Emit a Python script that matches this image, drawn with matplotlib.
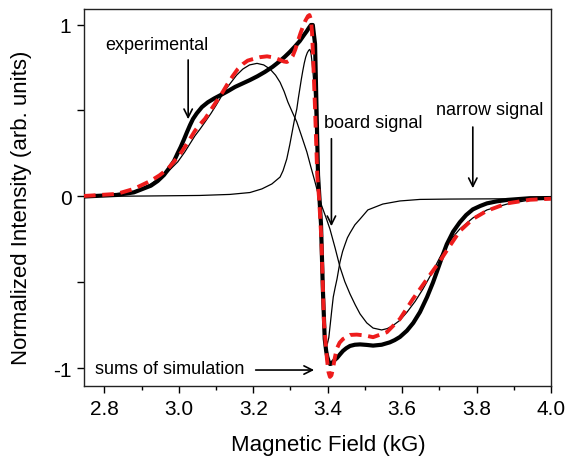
import matplotlib.pyplot as plt
from matplotlib.ticker import FixedLocator, FixedFormatter, MultipleLocator

plt.rcParams['font.family'] = ['Liberation Sans', 'DejaVu Sans']

# experimental spectrum (thick black)
exp_field = [2.745, 2.833, 2.879, 2.925, 2.943, 2.960, 2.974, 2.987, 2.996, 3.005,
             3.014, 3.022, 3.030, 3.038, 3.048, 3.062, 3.078, 3.095, 3.116, 3.133,
             3.151, 3.171, 3.191, 3.211, 3.231, 3.252, 3.272, 3.285, 3.298, 3.312,
             3.325, 3.335, 3.344, 3.350, 3.355, 3.360, 3.366, 3.370, 3.374, 3.378,
             3.382, 3.387, 3.392, 3.396, 3.399, 3.403, 3.406, 3.410, 3.414, 3.419,
             3.425, 3.433, 3.441, 3.450, 3.460, 3.473, 3.487, 3.505, 3.522, 3.545,
             3.567, 3.580, 3.594, 3.613, 3.630, 3.648, 3.667, 3.683, 3.693, 3.702,
             3.711, 3.720, 3.737, 3.755, 3.772, 3.790, 3.810, 3.828, 3.855, 3.882,
             3.944, 4.000]
exp_intensity = [0.000, 0.009, 0.024, 0.063, 0.090, 0.125, 0.165, 0.206, 0.248, 0.288,
                 0.333, 0.375, 0.415, 0.451, 0.483, 0.520, 0.548, 0.570, 0.594, 0.614,
                 0.637, 0.657, 0.677, 0.699, 0.724, 0.754, 0.788, 0.813, 0.840, 0.872,
                 0.904, 0.935, 0.962, 0.982, 0.997, 0.997, 0.887, 0.509, 0.125, -0.015,
                 -0.160, -0.538, -0.828, -0.900, -0.933, -0.962, -0.974, -0.972, -0.962, -0.950,
                 -0.939, -0.918, -0.898, -0.882, -0.869, -0.862, -0.860, -0.863, -0.867, -0.862,
                 -0.848, -0.835, -0.817, -0.780, -0.735, -0.672, -0.585, -0.500, -0.440, -0.385,
                 -0.330, -0.278, -0.205, -0.150, -0.108, -0.075, -0.055, -0.040, -0.028, -0.020,
                 -0.010, -0.009]

# sum of the two simulated components (red dashed)
sum_field = [2.745, 2.833, 2.879, 2.925, 2.948, 2.970, 2.984, 2.997, 3.007, 3.016,
             3.030, 3.043, 3.057, 3.070, 3.080, 3.091, 3.105, 3.118, 3.131, 3.145,
             3.158, 3.172, 3.185, 3.199, 3.218, 3.237, 3.255, 3.272, 3.282, 3.290,
             3.298, 3.306, 3.313, 3.320, 3.327, 3.333, 3.340, 3.347, 3.351, 3.355,
             3.358, 3.361, 3.366, 3.372, 3.377, 3.383, 3.390, 3.398, 3.402, 3.406,
             3.410, 3.414, 3.419, 3.424, 3.432, 3.441, 3.460, 3.478, 3.500, 3.522,
             3.559, 3.594, 3.629, 3.667, 3.702, 3.728, 3.755, 3.790, 3.828, 3.882,
             3.944, 4.000]
sum_intensity = [0.003, 0.015, 0.044, 0.092, 0.123, 0.160, 0.195, 0.230, 0.258, 0.288,
                 0.335, 0.381, 0.420, 0.451, 0.483, 0.520, 0.565, 0.608, 0.655, 0.701,
                 0.740, 0.770, 0.790, 0.799, 0.810, 0.815, 0.808, 0.794, 0.785, 0.782,
                 0.792, 0.817, 0.855, 0.904, 0.950, 0.985, 1.022, 1.049, 1.055, 1.030,
                 0.950, 0.799, 0.509, 0.121, -0.015, -0.247, -0.730, -0.945, -1.020, -1.049,
                 -1.040, -1.003, -0.940, -0.887, -0.850, -0.829, -0.805, -0.803, -0.808, -0.818,
                 -0.789, -0.712, -0.596, -0.480, -0.374, -0.288, -0.201, -0.131, -0.083, -0.040,
                 -0.019, -0.013]

# broad ("board") component
broad_field = [2.745, 2.833, 2.879, 2.925, 2.970, 2.997, 3.016, 3.043, 3.057, 3.070,
               3.086, 3.100, 3.115, 3.128, 3.137, 3.155, 3.172, 3.190, 3.210, 3.228,
               3.245, 3.260, 3.272, 3.283, 3.293, 3.305, 3.317, 3.330, 3.344, 3.355,
               3.366, 3.375, 3.384, 3.395, 3.406, 3.420, 3.433, 3.446, 3.460, 3.474,
               3.487, 3.505, 3.522, 3.545, 3.560, 3.575, 3.594, 3.613, 3.635, 3.656,
               3.680, 3.702, 3.720, 3.737, 3.755, 3.790, 3.828, 3.882, 3.944, 4.000]
broad_intensity = [0.000, 0.006, 0.026, 0.073, 0.143, 0.201, 0.259, 0.352, 0.392, 0.432,
                   0.482, 0.530, 0.585, 0.628, 0.654, 0.705, 0.741, 0.765, 0.774, 0.765,
                   0.741, 0.705, 0.664, 0.610, 0.549, 0.490, 0.433, 0.350, 0.259, 0.170,
                   0.084, 0.010, -0.055, -0.120, -0.189, -0.300, -0.410, -0.495, -0.567, -0.630,
                   -0.683, -0.735, -0.765, -0.776, -0.768, -0.751, -0.720, -0.673, -0.610, -0.538,
                   -0.445, -0.352, -0.290, -0.235, -0.189, -0.125, -0.078, -0.044, -0.020, -0.015]

# narrow component
narrow_field = [2.745, 2.922, 3.056, 3.137, 3.191, 3.223, 3.250, 3.272, 3.280, 3.290,
                3.298, 3.306, 3.311, 3.317, 3.321, 3.325, 3.329, 3.333, 3.337, 3.341,
                3.345, 3.349, 3.352, 3.355, 3.358, 3.361, 3.363, 3.366, 3.370, 3.373,
                3.376, 3.379, 3.382, 3.385, 3.388, 3.391, 3.395, 3.399, 3.403, 3.407,
                3.411, 3.415, 3.420, 3.425, 3.433, 3.440, 3.446, 3.453, 3.460, 3.473,
                3.487, 3.508, 3.548, 3.594, 3.648, 3.728, 4.000]
narrow_intensity = [0.000, 0.003, 0.006, 0.012, 0.023, 0.044, 0.073, 0.113, 0.150, 0.218,
                    0.300, 0.392, 0.450, 0.509, 0.570, 0.625, 0.680, 0.730, 0.775, 0.811,
                    0.835, 0.850, 0.855, 0.835, 0.780, 0.710, 0.650, 0.520, 0.300, 0.150,
                    0.000, -0.150, -0.300, -0.500, -0.650, -0.740, -0.830, -0.858, -0.820, -0.741,
                    -0.660, -0.584, -0.530, -0.480, -0.381, -0.320, -0.282, -0.240, -0.212, -0.165,
                    -0.131, -0.078, -0.044, -0.026, -0.017, -0.015, -0.012]

x_ticks = [2.8, 3.0, 3.2, 3.4, 3.6, 3.8, 4.0]
y_ticks = [-1, -0.5, 0, 0.5, 1]
y_tick_labels = ['-1', '', '0', '', '1']

fig = plt.figure(figsize=(5.67, 4.64), dpi=100)
ax = fig.add_axes([0.1481, 0.1659, 0.8236, 0.8125])

ax.plot(exp_field, exp_intensity, color='black', lw=3.0, solid_joinstyle='round', zorder=3)
ax.plot(broad_field, broad_intensity, color='black', lw=0.9, zorder=4)
ax.plot(narrow_field, narrow_intensity, color='black', lw=0.9, zorder=4)
ax.plot(sum_field, sum_intensity, color='#ee1c1c', lw=2.8, dashes=(3.0, 1.7), zorder=5)

arrow = dict(arrowstyle='->, head_length=0.6, head_width=0.3', color='black', lw=1.2)
ax.annotate('', xy=(3.025, 0.433), xytext=(3.025, 0.81), arrowprops=arrow)
ax.annotate('', xy=(3.410, -0.189), xytext=(3.410, 0.352), arrowprops=arrow)
ax.annotate('', xy=(3.790, 0.032), xytext=(3.790, 0.42), arrowprops=arrow)
ax.annotate('', xy=(3.371, -1.009), xytext=(3.199, -1.009), arrowprops=arrow)

ax.text(2.942, 0.881, 'experimental', fontsize=13, ha='center', va='center')
ax.text(3.522, 0.433, 'board signal', fontsize=13, ha='center', va='center')
ax.text(3.836, 0.503, 'narrow signal', fontsize=13, ha='center', va='center')
ax.text(2.976, -1.003, 'sums of simulation', fontsize=13, ha='center', va='center')

ax.set_xlim(2.745, 4.0)
ax.set_ylim(-1.102, 1.090)
ax.set_xticks(x_ticks)
ax.set_xticklabels([f'{v:.1f}' for v in x_ticks])
ax.xaxis.set_minor_locator(MultipleLocator(0.1))
ax.yaxis.set_major_locator(FixedLocator(y_ticks))
ax.yaxis.set_major_formatter(FixedFormatter(y_tick_labels))

ax.tick_params(which='major', direction='out', length=5, width=1, labelsize=15, pad=4)
ax.tick_params(which='minor', direction='out', length=3, width=1)
for side in ax.spines.values():
    side.set_linewidth(1.0)
    side.set_color('#222222')

ax.set_xlabel('Magnetic Field (kG)', fontsize=16)
ax.set_ylabel('Normalized Intensity (arb. units)', fontsize=16)
ax.xaxis.set_label_coords(0.523, -0.128)
ax.yaxis.set_label_coords(-0.111, 0.475)

fig.savefig('out.png', dpi=100)
